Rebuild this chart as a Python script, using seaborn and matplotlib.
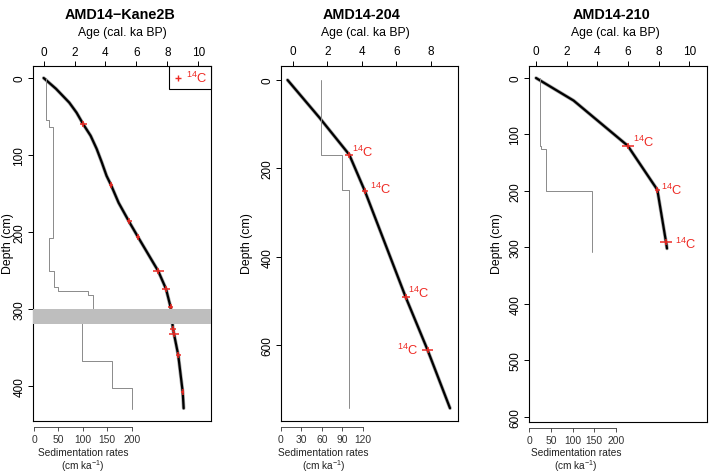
import numpy as np
import matplotlib
matplotlib.use("Agg")
import matplotlib.pyplot as plt
from matplotlib.lines import Line2D
import seaborn as sns

# ---- AMD14-Kane2B ----
kane_depth = [0, 14, 32, 45, 60, 75, 92, 110, 127, 139, 162, 187, 207, 230, 251, 274, 298, 326, 360, 408, 429]
kane_age = [0, 0.8, 1.66, 2.13, 2.56, 3.04, 3.43, 3.77, 4.07, 4.36, 4.85, 5.54, 6.12, 6.8, 7.42,
            7.92, 8.22, 8.37, 8.71, 9.0, 9.06]
kane_c14_depth = [60, 139, 186, 207, 251, 274, 298, 326, 333, 360, 408]
kane_c14_age = [2.56, 4.36, 5.54, 6.12, 7.42, 7.92, 8.22, 8.37, 8.43, 8.71, 9.0]
kane_c14_err = [0.24, 0.1, 0.16, 0.12, 0.35, 0.27, 0.16, 0.2, 0.32, 0.15, 0.1]
kane_sed_top = [0, 54, 63, 208, 251, 272, 276, 282, 310, 367, 402]
kane_sed_bot = [54, 63, 208, 251, 272, 276, 282, 310, 367, 402, 430]
kane_sed_rate = [24, 31, 38, 31, 40, 50, 111, 120, 99, 159, 200]
kane_gap = [300, 320]

# ---- AMD14-204 ----
c204_depth = [0, 85, 169, 252, 492, 611, 743]
c204_age = [-0.3, 1.54, 3.27, 4.18, 6.54, 7.8, 9.1]
c204_c14_depth = [169, 252, 492, 611]
c204_c14_age = [3.27, 4.18, 6.54, 7.8]
c204_c14_err = [0.24, 0.15, 0.22, 0.31]
c204_sed_top = [0, 169, 249]
c204_sed_bot = [169, 249, 742]
c204_sed_rate = [59, 90, 100]

# ---- AMD14-210 ----
c210_depth = [0, 40, 120, 198, 291, 302]
c210_age = [0, 2.45, 5.98, 7.91, 8.48, 8.54]
c210_c14_depth = [120, 198, 291]
c210_c14_age = [5.98, 7.91, 8.48]
c210_c14_err = [0.38, 0.16, 0.38]
c210_sed_top = [0, 120, 126, 201]
c210_sed_bot = [120, 126, 201, 308]
c210_sed_rate = [25, 28, 38, 144]

sns.set_style("ticks", {"axes.edgecolor": "black", "xtick.color": "black",
                        "ytick.color": "black", "text.color": "black"})
plt.rcParams["font.family"] = ["Liberation Sans", "DejaVu Sans"]
plt.rcParams["mathtext.fontset"] = "custom"
plt.rcParams["mathtext.rm"] = "Liberation Sans"
plt.rcParams["mathtext.it"] = "Liberation Sans:italic"
plt.rcParams["mathtext.bf"] = "Liberation Sans:bold"

RED = "#ee2a24"
W, H = 715, 477
fig = plt.figure(figsize=(7.15, 4.77), dpi=100)

panels = [
    dict(title="AMD14\u2212Kane2B", box=(33, 211, 67, 422), xlim=(-0.69, 10.83), ylim=(445.5, -15.6),
         sedlim=(-2.05, 362.3), ageticks=[0, 2, 4, 6, 8, 10], depthticks=[0, 100, 200, 300, 400],
         sedticks=[0, 50, 100, 150, 200], depth=kane_depth, age=kane_age,
         cd=kane_c14_depth, ca=kane_c14_age, ce=kane_c14_err,
         st=kane_sed_top, sb=kane_sed_bot, sr=kane_sed_rate,
         title_x=120, agelab_x=122, depthlab_x=8, sedlab_x=83, labels=None),
    dict(title="AMD14-204", box=(281, 458.3, 66.7, 421.7), xlim=(-0.68, 9.58), ylim=(771.3, -32.4),
         sedlim=(0, 260.3), ageticks=[0, 2, 4, 6, 8], depthticks=[0, 200, 400, 600],
         sedticks=[0, 30, 60, 90, 120], depth=c204_depth, age=c204_age,
         cd=c204_c14_depth, ca=c204_c14_age, ce=c204_c14_err,
         st=c204_sed_top, sb=c204_sed_bot, sr=c204_sed_rate,
         title_x=361.7, agelab_x=365.8, depthlab_x=247, sedlab_x=323.5,
         labels=[(2, 2, "left"), (3.5, 2, "left"), (1.5, 3.5, "left"), (-6.5, 0, "right")]),
    dict(title="AMD14-210", box=(529.3, 707.3, 66.7, 422.7), xlim=(-0.44, 11.17), ylim=(608.9, -21.8),
         sedlim=(0, 410.6), ageticks=[0, 2, 4, 6, 8, 10], depthticks=[0, 100, 200, 300, 400, 500, 600],
         sedticks=[0, 50, 100, 150, 200], depth=c210_depth, age=c210_age,
         cd=c210_c14_depth, ca=c210_c14_age, ce=c210_c14_err,
         st=c210_sed_top, sb=c210_sed_bot, sr=c210_sed_rate,
         title_x=611.7, agelab_x=615, depthlab_x=497, sedlab_x=575.8,
         labels=[(4, 3, "left"), (3, 0.5, "left"), (6.5, -0.5, "left")]),
]

for i, p in enumerate(panels):
    l, r, t, b = p["box"]
    ax = fig.add_axes([l / W, 1 - b / H, (r - l) / W, (b - t) / H])
    ax2 = ax.twiny()

    # age-depth model: thin grey envelope under the black median
    sns.lineplot(x=p["age"], y=p["depth"], sort=False, estimator=None, color="#a8a8a8",
                 lw=2.6, ax=ax, zorder=2)
    sns.lineplot(x=p["age"], y=p["depth"], sort=False, estimator=None, color="black",
                 lw=1.6, ax=ax, zorder=3)
    ax.errorbar(p["ca"], p["cd"], xerr=p["ce"], fmt="|", color=RED, ecolor=RED,
                elinewidth=1.1, ms=4.5, mew=1.1, capsize=0, zorder=4)
    if p["labels"]:
        for a, d, (dx, dy, ha) in zip(p["ca"], p["cd"], p["labels"]):
            ax.annotate(r"$^{14}$C", (a, d), xytext=(dx, dy), textcoords="offset points",
                        ha=ha, va="center", color=RED, fontsize=9.3)

    # sedimentation rate step line
    sed_d = np.ravel(np.column_stack([p["st"], p["sb"]]))
    sed_r = np.repeat(p["sr"], 2)
    sns.lineplot(x=sed_r, y=sed_d, sort=False, estimator=None, color="#8a8a8a", lw=0.7, ax=ax2)

    if i == 0:
        ax2.axhspan(kane_gap[0], kane_gap[1], color="#bebebe", lw=0, zorder=10)
        h = Line2D([], [], ls="none", marker="+", color=RED, ms=5, mew=1)
        leg = ax.legend([h], [r"$^{14}$C"], loc="upper right", frameon=True, fancybox=False,
                        edgecolor="black", framealpha=1, borderaxespad=0, handlelength=0.8,
                        handletextpad=0.2, borderpad=0.3, fontsize=9.3, labelcolor=RED)
        leg.get_frame().set_linewidth(0.8)

    ax.set_xlim(*p["xlim"])
    ax.set_ylim(*p["ylim"])
    ax2.set_xlim(*p["sedlim"])
    ax2.set_ylim(*p["ylim"])

    ax.set_xticks(p["ageticks"])
    ax.set_yticks(p["depthticks"])
    ax.xaxis.set_ticks_position("top")
    ax.set_xlabel("")
    ax.set_ylabel("")
    ax.tick_params(axis="x", which="both", top=True, bottom=False, labeltop=True,
                   labelbottom=False, length=3.6, width=0.7, pad=2.5, labelsize=8.5)
    ax.tick_params(axis="y", length=3.6, width=0.7, pad=2, labelsize=8.5, labelrotation=90)
    for lab in ax.get_yticklabels():
        lab.set_va("center")
    for s in ax.spines.values():
        s.set_visible(True)
        s.set_linewidth(0.8)

    ax2.set_xticks(p["sedticks"])
    ax2.xaxis.set_ticks_position("bottom")
    ax2.set_xlabel("")
    ax2.tick_params(axis="x", which="both", top=False, bottom=True, labeltop=False,
                    labelbottom=True, length=3, width=0.6, pad=2, labelsize=7.4, colors="#333333")
    for k in ["top", "left", "right"]:
        ax2.spines[k].set_visible(False)
    ax2.spines["bottom"].set_visible(True)
    ax2.spines["bottom"].set_position(("outward", 4.3))
    ax2.spines["bottom"].set_bounds(p["sedticks"][0], p["sedticks"][-1])
    ax2.spines["bottom"].set_linewidth(0.6)
    ax2.spines["bottom"].set_color("#333333")

    # texts
    fig.text(p["title_x"] / W, 1 - 15 / H, p["title"], ha="center", va="center",
             fontsize=10.4, fontweight="bold")
    fig.text(p["agelab_x"] / W, 1 - 33 / H, "Age (cal. ka BP)", ha="center", va="center", fontsize=8.8)
    fig.text(p["depthlab_x"] / W, 1 - 244 / H, "Depth (cm)", ha="center", va="center",
             rotation=90, fontsize=8.8)
    fig.text(p["sedlab_x"] / W, 1 - 453 / H, "Sedimentation rates", ha="center", va="center",
             fontsize=7.3, color="#222222")
    fig.text(p["sedlab_x"] / W, 1 - 466 / H, r"(cm ka$^{-1}$)", ha="center", va="center",
             fontsize=7.3, color="#222222")

fig.savefig("out.png", dpi=100)
